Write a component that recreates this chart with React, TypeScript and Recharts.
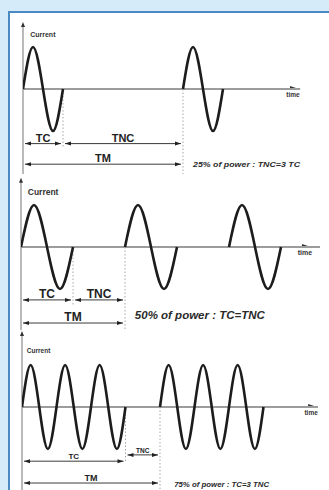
import { LineChart, Line, XAxis, YAxis, ReferenceLine, ReferenceDot } from "recharts";

// Panel 1: 25% of power, one cycle on then three cycles off
const P1_TIME = [0, 0.25, 0.5, 0.75, 1, 2.5, 4, 4.25, 4.5, 4.75, 5];
const P1_CURRENT = [0, 1, 0, -1, 0, null, 0, 1, 0, -1, 0];
const P1_SPANS = { tc: [0, 1], tnc: [1, 4], tm: [0, 4] };

// Panel 2: 50% of power, one on / one off
const P2_TIME = [0, 0.25, 0.5, 0.75, 1, 1.5, 2, 2.25, 2.5, 2.75, 3, 3.5, 4, 4.25, 4.5, 4.75, 5];
const P2_CURRENT = [0, 1, 0, -1, 0, null, 0, 1, 0, -1, 0, null, 0, 1, 0, -1, 0];
const P2_SPANS = { tc: [0, 1], tnc: [1, 2], tm: [0, 2] };

// Panel 3: 75% of power, three on / one off
const P3_TIME = [
  0, 0.25, 0.5, 0.75, 1, 1.25, 1.5, 1.75, 2, 2.25, 2.5, 2.75, 3, 3.5,
  4, 4.25, 4.5, 4.75, 5, 5.25, 5.5, 5.75, 6, 6.25, 6.5, 6.75, 7,
];
const P3_CURRENT = [
  0, 1, 0, -1, 0, 1, 0, -1, 0, 1, 0, -1, 0, null,
  0, 1, 0, -1, 0, 1, 0, -1, 0, 1, 0, -1, 0,
];
const P3_SPANS = { tc: [0, 3], tnc: [3, 4], tm: [0, 4] };

const CAPTIONS = [
  "25% of power : TNC=3 TC",
  "50% of power : TC=TNC",
  "75% of power : TC=3 TNC",
];

const FONT = "'Liberation Sans', Arial, sans-serif";
const INK = "#1c1c1c";
const AXIS = "#9c9c9c";

type Layout = {
  top: number;
  height: number;
  zeroY: number;
  amp: number;
  originX: number;
  period: number;
  axisTop: number;
  axisEnd: number;
  timeX: number;
  timeSize: number;
  currentAt: [number, number];
  currentSize: number;
  arrowY: { tc: number; tnc: number; tm: number };
  labelSize: { tc: number; tnc: number; tm: number };
  dotBottom: number;
  caption: { x: number; y: number; width: number; size: number };
};

const L1: Layout = {
  top: 14, height: 160, zeroY: 75, amp: 42, originX: 23, period: 40,
  axisTop: 1.55, axisEnd: 6.93, timeX: 6.75, timeSize: 6.5,
  currentAt: [0.18, 1.24], currentSize: 7,
  arrowY: { tc: -1.3, tnc: -1.3, tm: -1.79 },
  labelSize: { tc: 11, tnc: 11, tm: 11 },
  dotBottom: -1.38,
  caption: { x: 4.25, y: -1.86, width: 107, size: 8 },
};

const L2: Layout = {
  top: 174, height: 156, zeroY: 73, amp: 42, originX: 21, period: 52,
  axisTop: 1.6, axisEnd: 5.75, timeX: 5.46, timeSize: 7,
  currentAt: [0.13, 1.24], currentSize: 8.5,
  arrowY: { tc: -1.26, tnc: -1.26, tm: -1.81 },
  labelSize: { tc: 12, tnc: 12, tm: 12 },
  dotBottom: -1.38,
  caption: { x: 2.19, y: -1.71, width: 130, size: 10 },
};

const L3: Layout = {
  top: 330, height: 160, zeroY: 77, amp: 42, originX: 22, period: 34.5,
  axisTop: 1.76, axisEnd: 8.58, timeX: 8.38, timeSize: 6.5,
  currentAt: [0.14, 1.29], currentSize: 6.5,
  arrowY: { tc: -1.29, tnc: -1.14, tm: -1.81 },
  labelSize: { tc: 8, tnc: 6.5, tm: 9 },
  dotBottom: -1.33,
  caption: { x: 4.41, y: -1.9, width: 95, size: 7.5 },
};

function dimShape(text: string, size: number) {
  return (p: any) => {
    const a = p.x1 + 2;
    const b = p.x2 - 2;
    const y = p.y1;
    return (
      <g>
        <line x1={a} y1={y} x2={b} y2={y} stroke="#3a3a3a" strokeWidth={1} />
        <path d={`M${a},${y} l6,-2 l0,4 z`} fill="#222" />
        <path d={`M${b},${y} l-6,-2 l0,4 z`} fill="#222" />
        <text
          x={(a + b) / 2}
          y={y - 2}
          textAnchor="middle"
          fontSize={size}
          fontWeight={700}
          fill="#222"
          fontFamily={FONT}
        >
          {text}
        </text>
      </g>
    );
  };
}

function Panel({
  time,
  current,
  spans,
  caption,
  L,
}: {
  time: number[];
  current: (number | null)[];
  spans: { tc: number[]; tnc: number[]; tm: number[] };
  caption: string;
  L: Layout;
}) {
  const rows = time.map((t, i) => ({ t, current: current[i] }));
  const xMax = (329 - L.originX) / L.period;
  const yMax = L.zeroY / L.amp;
  const yMin = -(L.height - L.zeroY) / L.amp;

  return (
    <div style={{ position: "absolute", left: 0, top: L.top }}>
      <LineChart
        width={329}
        height={L.height}
        data={rows}
        margin={{ top: 0, right: 0, bottom: 0, left: L.originX }}
      >
        <XAxis type="number" dataKey="t" domain={[0, xMax]} hide allowDataOverflow />
        <YAxis type="number" domain={[yMin, yMax]} hide allowDataOverflow />

        {/* vertical current axis */}
        <ReferenceLine
          segment={[{ x: 0, y: L.axisTop }, { x: 0, y: yMin }]}
          shape={(p: any) => (
            <g>
              <line x1={p.x1} y1={p.y1} x2={p.x2} y2={p.y2} stroke="#8c8c8c" strokeWidth={1.2} />
              <path d={`M${p.x1},${p.y1 - 2} l-2,5 l4,0 z`} fill="#333" />
            </g>
          )}
        />
        {/* time axis */}
        <ReferenceLine
          segment={[{ x: 0, y: 0 }, { x: L.axisEnd, y: 0 }]}
          stroke={AXIS}
          strokeWidth={1.8}
        />
        <ReferenceDot
          x={L.timeX}
          y={0}
          r={0}
          shape={(p: any) => (
            <g>
              <path d={`M${p.cx + 3},${p.cy - 1} l-6,-2 l0,2 z`} fill="#333" />
              <text
                x={p.cx}
                y={p.cy + 8}
                textAnchor="middle"
                fontSize={L.timeSize}
                fontWeight={700}
                fill="#333"
                fontFamily={FONT}
              >
                time
              </text>
            </g>
          )}
        />
        <ReferenceDot
          x={L.currentAt[0]}
          y={L.currentAt[1]}
          r={0}
          shape={(p: any) => (
            <text
              x={p.cx}
              y={p.cy}
              fontSize={L.currentSize}
              fontWeight={700}
              fill="#333"
              fontFamily={FONT}
            >
              Current
            </text>
          )}
        />

        {/* dotted boundaries */}
        <ReferenceLine
          segment={[{ x: spans.tc[1], y: 0 }, { x: spans.tc[1], y: L.dotBottom }]}
          stroke="#a8a8a8"
          strokeDasharray="1.5 2"
        />
        <ReferenceLine
          segment={[{ x: spans.tm[1], y: 0 }, { x: spans.tm[1], y: yMin }]}
          stroke="#a8a8a8"
          strokeDasharray="1.5 2"
        />

        {/* dimension arrows */}
        <ReferenceLine
          segment={[{ x: spans.tc[0], y: L.arrowY.tc }, { x: spans.tc[1], y: L.arrowY.tc }]}
          shape={dimShape("TC", L.labelSize.tc)}
        />
        <ReferenceLine
          segment={[{ x: spans.tnc[0], y: L.arrowY.tnc }, { x: spans.tnc[1], y: L.arrowY.tnc }]}
          shape={dimShape("TNC", L.labelSize.tnc)}
        />
        <ReferenceLine
          segment={[{ x: spans.tm[0], y: L.arrowY.tm }, { x: spans.tm[1], y: L.arrowY.tm }]}
          shape={dimShape("TM", L.labelSize.tm)}
        />

        <ReferenceDot
          x={L.caption.x}
          y={L.caption.y}
          r={0}
          shape={(p: any) => (
            <text
              x={p.cx}
              y={p.cy}
              fontSize={L.caption.size}
              fontWeight={700}
              fontStyle="italic"
              fill="#2a2a2a"
              fontFamily={FONT}
              textLength={L.caption.width}
              lengthAdjust="spacingAndGlyphs"
            >
              {caption}
            </text>
          )}
        />

        <Line
          dataKey="current"
          type="natural"
          stroke={INK}
          strokeWidth={2.6}
          dot={false}
          activeDot={false}
          connectNulls={false}
          isAnimationActive={false}
        />
      </LineChart>
    </div>
  );
}

export default function App() {
  return (
    <div
      style={{
        position: "fixed",
        left: 0,
        top: 0,
        width: 329,
        height: 490,
        background: "#d5ebf9",
        overflow: "hidden",
      }}
    >
      <div
        style={{
          position: "absolute",
          left: 8,
          top: 11,
          width: 321,
          height: 479,
          boxSizing: "border-box",
          borderLeft: "2px solid #4a89c2",
          borderTop: "2px solid #4a89c2",
          background: "#ffffff",
        }}
      />
      <Panel time={P1_TIME} current={P1_CURRENT} spans={P1_SPANS} caption={CAPTIONS[0]} L={L1} />
      <Panel time={P2_TIME} current={P2_CURRENT} spans={P2_SPANS} caption={CAPTIONS[1]} L={L2} />
      <Panel time={P3_TIME} current={P3_CURRENT} spans={P3_SPANS} caption={CAPTIONS[2]} L={L3} />
    </div>
  );
}
